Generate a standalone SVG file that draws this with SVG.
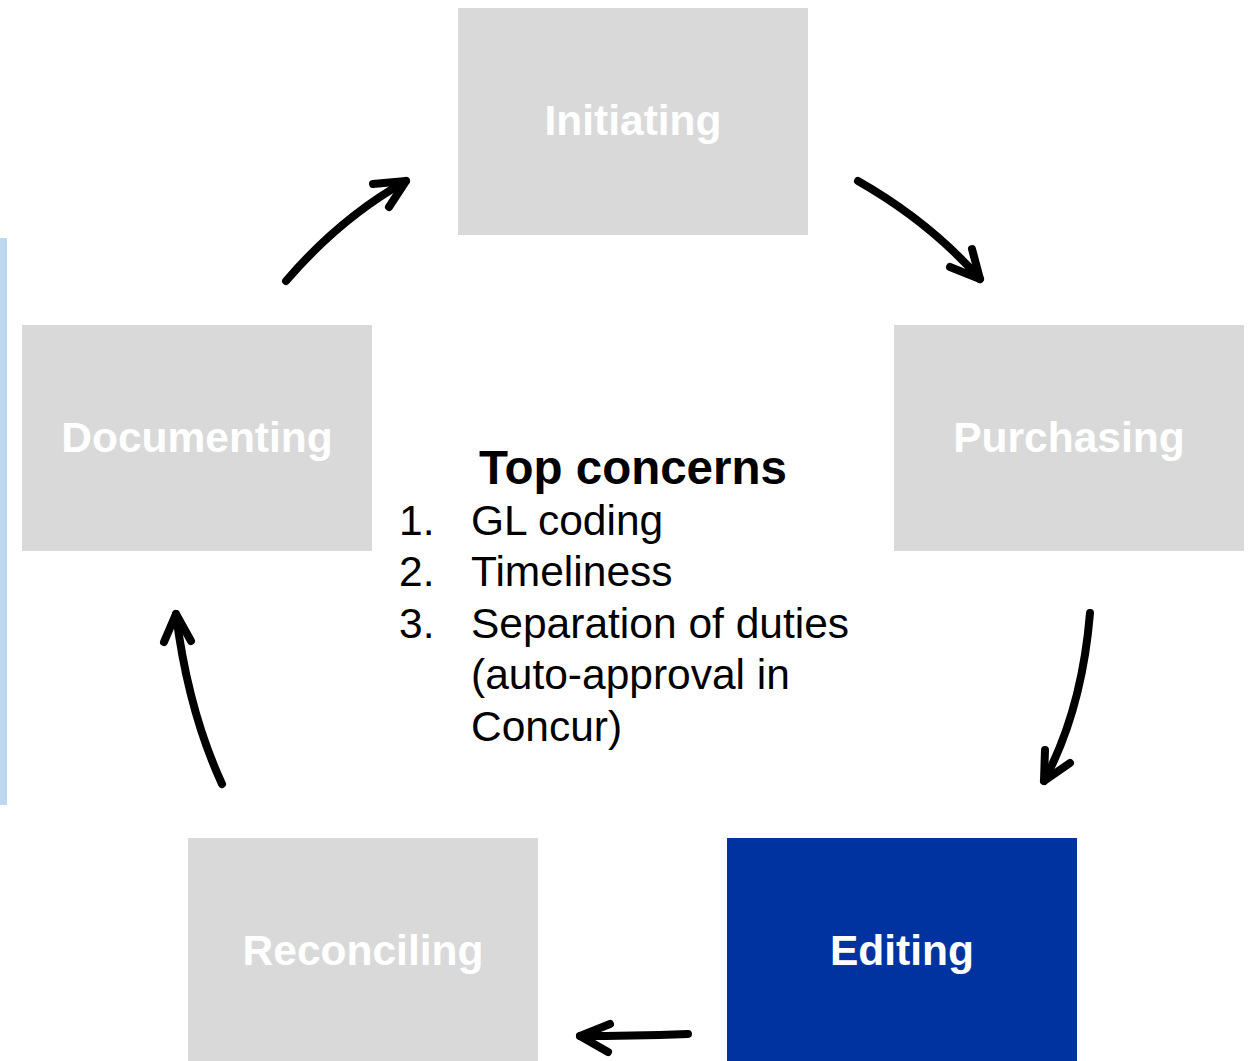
<svg xmlns="http://www.w3.org/2000/svg" width="1248" height="1061" viewBox="0 0 1248 1061">
<style>
.box{fill:#D9D9D9}
.lbl{font-family:"Liberation Sans",Arial,sans-serif;font-weight:bold;font-size:42.5px;fill:#FFFFFF;text-anchor:middle}
.arr{fill:none;stroke:#000;stroke-width:8;stroke-linecap:round;stroke-linejoin:round}
.t{font-family:"Liberation Sans",Arial,sans-serif;font-size:42.5px;fill:#000}
.h{font-family:"Liberation Sans",Arial,sans-serif;font-size:47.5px;font-weight:bold;fill:#000;text-anchor:middle}
</style>
<rect x="0" y="238" width="7" height="567" fill="#BDD7EE"/>
<g id="initiating"><rect class="box" x="458" y="8" width="350" height="227"/><text class="lbl" x="633" y="135">Initiating</text></g>
<g id="purchasing"><rect class="box" x="894" y="325" width="350" height="226"/><text class="lbl" x="1069" y="452">Purchasing</text></g>
<g id="editing"><rect x="727" y="838" width="350" height="223" fill="#0033A0"/><text class="lbl" x="902" y="965">Editing</text></g>
<g id="reconciling"><rect class="box" x="188" y="838" width="350" height="223"/><text class="lbl" x="363" y="965">Reconciling</text></g>
<g id="documenting"><rect class="box" x="22" y="325" width="350" height="226"/><text class="lbl" x="197" y="452">Documenting</text></g>
<g id="connectors">
<path class="arr" d="M286,281 Q340,218 406,181"/><path class="arr" d="M373,184 L406,181 L389,207"/>
<path class="arr" d="M858,181 Q930,222 980,279"/><path class="arr" d="M950,267 L980,279 L972,249"/>
<path class="arr" d="M1090,613 Q1082,710 1044,781"/><path class="arr" d="M1045,750 L1044,781 L1070,763"/>
<path class="arr" d="M688,1034 Q630,1036 580,1036"/><path class="arr" d="M610,1024 L580,1036 L608,1052"/>
<path class="arr" d="M222,784 Q188,710 176,614"/><path class="arr" d="M164,642 L176,614 L191,641"/>
</g>
<g id="concerns">
<text class="h" x="633" y="484">Top concerns</text>
<text class="t" x="399" y="535">1.</text><text class="t" x="471" y="535">GL coding</text>
<text class="t" x="399" y="586">2.</text><text class="t" x="471" y="586">Timeliness</text>
<text class="t" x="399" y="638">3.</text><text class="t" x="471" y="638">Separation of duties</text>
<text class="t" x="471" y="689">(auto-approval in</text>
<text class="t" x="471" y="741">Concur)</text>
</g>
</svg>
